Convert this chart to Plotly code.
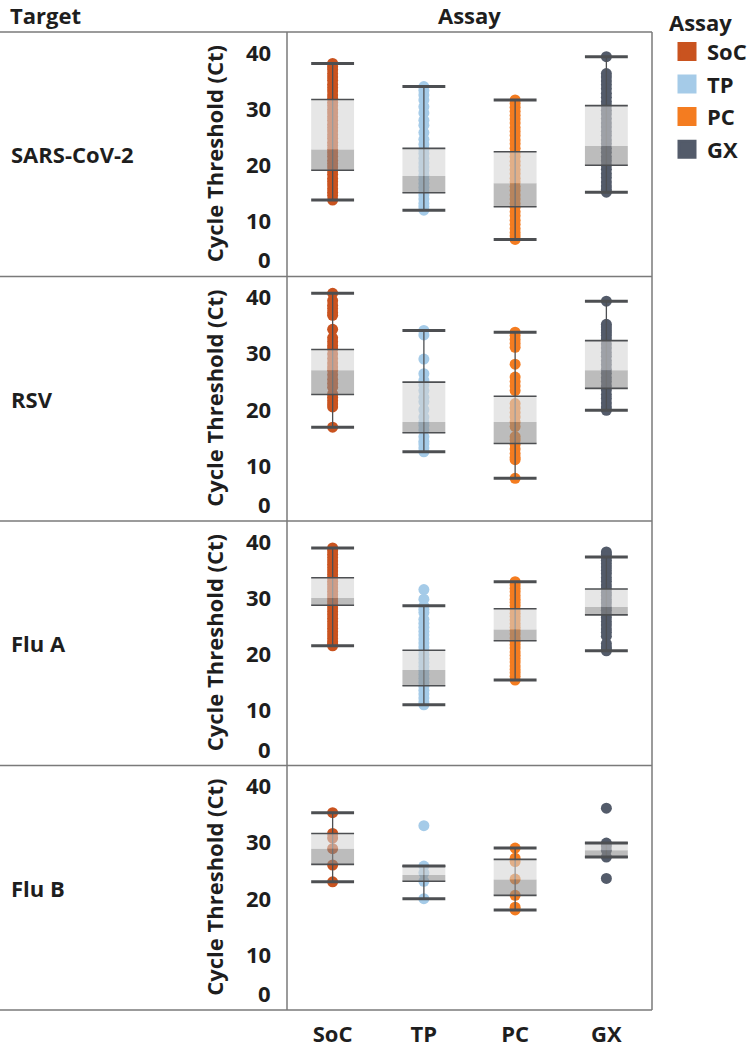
import plotly.graph_objects as go

W, H = 755, 1050
FONT = "Open Sans"
TEXT_COLOR = "#1e1e1e"
FS = 22

ASSAYS = ["SoC", "TP", "PC", "GX"]
TARGETS = ["SARS-CoV-2", "RSV", "Flu A", "Flu B"]
COLORS = {"SoC": "#c9531f", "TP": "#a5cbe8", "PC": "#f47c20", "GX": "#535b6a"}
Y_TICKS = [0, 10, 20, 30, 40]
Y_TITLE = "Cycle Threshold (Ct)"

# ---- Ct values -----------------------------------------------------------
SARS_SOC = [37.9, 37.3, 36.8, 36.1, 35.5, 34.9, 34.2, 33.6, 33.0, 32.3, 31.7, 31.0,
            30.4, 29.7, 29.1, 28.4, 27.8, 27.1, 26.5, 25.9, 25.2, 24.6, 23.9, 23.3,
            22.6, 22.0, 21.4, 20.7, 20.1, 19.5, 18.8, 18.2, 17.5, 16.9, 16.3, 15.6,
            15.0, 14.4, 13.6]
SARS_TP = [33.8, 33.1, 32.3, 31.4, 30.2, 29.1, 27.8, 26.9, 25.6, 24.4, 23.5, 22.6,
           21.9, 21.0, 20.2, 19.5, 18.8, 18.0, 17.3, 16.6, 15.9, 15.2, 14.5, 13.8,
           13.0, 12.4, 11.8]
SARS_PC = [31.4, 30.8, 30.1, 29.4, 28.7, 28.0, 27.3, 26.5, 25.8, 25.1, 24.3, 23.6,
           22.8, 22.0, 21.3, 20.5, 19.8, 19.0, 18.3, 17.5, 16.8, 16.0, 15.3, 14.5,
           13.8, 13.0, 12.3, 11.5, 10.8, 10.0, 9.3, 8.5, 7.8, 7.2, 6.6]
SARS_GX = [39.1, 36.1, 35.5, 34.8, 34.1, 33.4, 32.6, 31.9, 31.1, 30.4, 29.6, 28.9,
           28.1, 27.3, 26.6, 25.8, 25.1, 24.3, 23.6, 22.8, 22.1, 21.3, 20.6, 19.8,
           19.1, 18.3, 17.6, 16.8, 16.1, 15.5, 15.0]

RSV_SOC = [40.5, 39.2, 38.4, 37.8, 37.1, 36.6, 34.1, 32.6, 31.9, 31.2, 30.6, 29.7,
           28.9, 28.1, 27.4, 26.8, 26.0, 25.2, 24.5, 23.8, 22.6, 22.0, 21.4, 20.8,
           20.3, 16.7]
RSV_TP = [33.9, 33.1, 28.8, 26.2, 25.0, 24.2, 23.2, 22.0, 21.2, 19.8, 18.5, 17.6,
          17.0, 16.2, 15.0, 14.2, 13.7, 13.0, 12.3]
RSV_PC = [33.6, 33.0, 32.3, 31.6, 30.9, 27.9, 25.6, 24.8, 24.0, 23.2, 20.9, 20.1,
          19.3, 18.5, 17.6, 16.8, 15.0, 14.4, 13.6, 12.8, 12.0, 11.3, 10.9, 7.6]
RSV_GX = [39.1, 35.0, 34.5, 34.0, 33.5, 33.0, 32.4, 31.5, 30.8, 30.0, 29.3, 28.5,
          27.8, 27.0, 26.3, 25.5, 24.8, 24.0, 23.3, 22.5, 21.8, 21.0, 20.3, 19.7]

FLUA_SOC = [38.7, 38.2, 37.6, 37.0, 36.4, 35.8, 35.2, 34.6, 34.0, 33.4, 32.8, 32.2,
            31.6, 31.0, 30.4, 29.8, 29.2, 28.6, 28.0, 27.4, 26.8, 26.2, 25.6, 25.0,
            24.4, 23.8, 23.2, 22.6, 22.0, 21.6, 21.3]
FLUA_TP = [31.3, 29.6, 28.4, 27.8, 27.2, 26.0, 25.3, 24.6, 23.9, 23.2, 22.5, 21.8,
           21.1, 20.4, 19.7, 19.0, 18.3, 17.6, 16.9, 16.2, 15.5, 14.8, 14.1, 13.4,
           12.7, 12.0, 11.3, 10.8]
FLUA_PC = [32.7, 32.1, 31.5, 30.9, 30.2, 29.6, 29.0, 28.4, 27.7, 27.1, 26.5, 25.9,
           25.2, 24.6, 24.0, 23.4, 22.7, 22.1, 21.5, 20.9, 20.2, 19.6, 19.0, 18.4,
           17.7, 17.1, 16.5, 15.9, 15.2]
FLUA_GX = [38.0, 37.6, 37.1, 36.5, 35.9, 35.3, 34.7, 34.1, 33.4, 32.8, 32.1, 31.5,
           30.8, 30.2, 29.5, 28.9, 28.2, 27.6, 26.9, 26.3, 25.6, 25.0, 24.3, 23.7,
           23.0, 21.7, 21.1, 20.7, 20.4]

FLUB_SOC = [35.1, 31.4, 30.6, 28.7, 25.8, 22.8]
FLUB_TP = [32.8, 25.6, 24.4, 22.9, 19.8]
FLUB_PC = [28.8, 27.0, 26.4, 23.3, 20.4, 18.3, 17.8]
FLUB_GX = [35.9, 29.7, 29.2, 28.4, 27.2, 23.4]

POINTS = {
    "SARS-CoV-2": [SARS_SOC, SARS_TP, SARS_PC, SARS_GX],
    "RSV": [RSV_SOC, RSV_TP, RSV_PC, RSV_GX],
    "Flu A": [FLUA_SOC, FLUA_TP, FLUA_PC, FLUA_GX],
    "Flu B": [FLUB_SOC, FLUB_TP, FLUB_PC, FLUB_GX],
}

# Box-plot statistics per target, in ASSAYS order
WHISKER_LOW = {"SARS-CoV-2": [13.6, 11.8, 6.6, 15.0], "RSV": [16.7, 12.3, 7.6, 19.7],
               "Flu A": [21.3, 10.8, 15.2, 20.4], "Flu B": [22.8, 19.8, 17.8, 27.2]}
Q1 = {"SARS-CoV-2": [18.9, 14.9, 12.4, 19.8], "RSV": [22.5, 15.7, 13.8, 23.6],
      "Flu A": [28.5, 14.2, 22.2, 26.8], "Flu B": [25.9, 22.9, 20.4, 27.2]}
MEDIAN = {"SARS-CoV-2": [22.6, 17.9, 16.6, 23.2], "RSV": [26.8, 17.6, 17.6, 26.8],
          "Flu A": [29.8, 17.0, 24.2, 28.2], "Flu B": [28.7, 24.0, 23.2, 28.4]}
Q3 = {"SARS-CoV-2": [31.5, 22.8, 22.2, 30.4], "RSV": [30.5, 24.7, 22.2, 32.1],
      "Flu A": [33.4, 20.5, 27.9, 31.4], "Flu B": [31.4, 25.6, 26.8, 29.7]}
WHISKER_HIGH = {"SARS-CoV-2": [37.9, 33.8, 31.4, 39.1], "RSV": [40.5, 33.9, 33.6, 39.1],
                "Flu A": [38.7, 28.4, 32.7, 37.1], "Flu B": [35.1, 25.6, 28.8, 29.7]}

# ---- layout geometry (pixels) ---------------------------------------------
ROW_EDGES = [32, 276.5, 521, 765.5, 1010]
PANE_LEFT, PANE_RIGHT = 287, 652
Y_RANGE = [0, 43.5]
BOX_HALF = 0.235


def fx(px):
    return px / W


def fy(px):
    return 1 - px / H


def rect_polys(lows, highs):
    xs, ys = [], []
    for i, (lo, hi) in enumerate(zip(lows, highs)):
        xs += [i - BOX_HALF, i + BOX_HALF, i + BOX_HALF, i - BOX_HALF, i - BOX_HALF, None]
        ys += [lo, lo, hi, hi, lo, None]
    return xs, ys


LINE_DARK = "#4d4f52"
fig = go.Figure()

for r, target in enumerate(TARGETS, start=1):
    xa = "x" if r == 1 else f"x{r}"
    ya = "y" if r == 1 else f"y{r}"
    pos = list(range(len(ASSAYS)))
    # points
    for i, a in enumerate(ASSAYS):
        vals = POINTS[target][i]
        fig.add_trace(go.Scatter(
            x=[i] * len(vals), y=vals, mode="markers",
            marker=dict(size=11, color=COLORS[a], line=dict(width=0)),
            showlegend=False, hoverinfo="y", xaxis=xa, yaxis=ya))
    # whisker stems
    sx, sy = [], []
    for i in pos:
        sx += [i, i, None]
        sy += [WHISKER_LOW[target][i], WHISKER_HIGH[target][i], None]
    fig.add_trace(go.Scatter(x=sx, y=sy, mode="lines",
                             line=dict(color=LINE_DARK, width=1.3),
                             showlegend=False, hoverinfo="skip", xaxis=xa, yaxis=ya))
    # two-tone box (translucent, drawn over the points)
    lx, ly = rect_polys(Q1[target], MEDIAN[target])
    fig.add_trace(go.Scatter(x=lx, y=ly, mode="none", fill="toself",
                             fillcolor="rgba(140,140,140,0.58)",
                             showlegend=False, hoverinfo="skip", xaxis=xa, yaxis=ya))
    ux, uy = rect_polys(MEDIAN[target], Q3[target])
    fig.add_trace(go.Scatter(x=ux, y=uy, mode="none", fill="toself",
                             fillcolor="rgba(212,212,212,0.58)",
                             showlegend=False, hoverinfo="skip", xaxis=xa, yaxis=ya))
    # box edges (Q1, Q3)
    bx, by = [], []
    for i in pos:
        for v in (Q1[target][i], Q3[target][i]):
            bx += [i - BOX_HALF, i + BOX_HALF, None]
            by += [v, v, None]
    fig.add_trace(go.Scatter(x=bx, y=by, mode="lines",
                             line=dict(color=LINE_DARK, width=1.6),
                             showlegend=False, hoverinfo="skip", xaxis=xa, yaxis=ya))
    # whisker caps
    cx, cy = [], []
    for i in pos:
        for v in (WHISKER_LOW[target][i], WHISKER_HIGH[target][i]):
            cx += [i - BOX_HALF, i + BOX_HALF, None]
            cy += [v, v, None]
    fig.add_trace(go.Scatter(x=cx, y=cy, mode="lines",
                             line=dict(color=LINE_DARK, width=3),
                             showlegend=False, hoverinfo="skip", xaxis=xa, yaxis=ya))

# legend entries
for a in ASSAYS:
    fig.add_trace(go.Scatter(x=[None], y=[None], mode="markers", name=a, legendgroup=a,
                             marker=dict(symbol="square", size=16, color=COLORS[a],
                                         line=dict(width=3, color=COLORS[a])),
                             xaxis="x", yaxis="y"))

layout = dict(
    width=W, height=H,
    margin=dict(l=0, r=0, t=0, b=0),
    paper_bgcolor="white", plot_bgcolor="white",
    font=dict(family=FONT, size=FS, color=TEXT_COLOR),
    showlegend=True,
    legend=dict(x=fx(667), y=fy(2), xanchor="left", yanchor="top",
                title=dict(text="<b>Assay</b>", font=dict(size=FS)),
                font=dict(size=FS, family=FONT, color=TEXT_COLOR, weight=700),
                itemsizing="trace", tracegroupgap=1, bgcolor="rgba(0,0,0,0)",
                borderwidth=0),
)
annotations = []
shapes = []
for r, target in enumerate(TARGETS, start=1):
    top, bot = ROW_EDGES[r - 1], ROW_EDGES[r]
    xkey = "xaxis" if r == 1 else f"xaxis{r}"
    ykey = "yaxis" if r == 1 else f"yaxis{r}"
    ya = "y" if r == 1 else f"y{r}"
    layout[xkey] = dict(domain=[fx(PANE_LEFT), fx(PANE_RIGHT)], range=[-0.5, 3.5],
                        showgrid=False, zeroline=False, showline=False,
                        tickmode="array", tickvals=list(range(len(ASSAYS))),
                        ticktext=[f"<b>{a}</b>" for a in ASSAYS],
                        showticklabels=(r == len(TARGETS)), ticks="",
                        ticklabelstandoff=9,
                        tickfont=dict(size=FS, family=FONT, color=TEXT_COLOR),
                        anchor=ya, fixedrange=True)
    layout[ykey] = dict(domain=[fy(bot), fy(top)], range=Y_RANGE, showgrid=False,
                        zeroline=False, showline=False, showticklabels=False,
                        anchor="x" if r == 1 else f"x{r}", fixedrange=True)
    for t in Y_TICKS:
        annotations.append(dict(text=f"<b>{t}</b>", xref="paper", x=fx(273), xanchor="right",
                                yref=ya, y=t, yanchor="bottom" if t == Y_TICKS[0] else "middle",
                                showarrow=False, font=dict(size=FS)))
    annotations.append(dict(text=f"<b>{Y_TITLE}</b>", xref="paper", x=fx(214),
                            yref=f"{ya} domain", y=0.5, textangle=-90, showarrow=False,
                            xanchor="center", yanchor="middle", font=dict(size=FS)))
    annotations.append(dict(text=f"<b>{target}</b>", xref="paper", x=fx(9), xanchor="left",
                            yref=f"{ya} domain", y=0.5, yanchor="middle", showarrow=False,
                            font=dict(size=FS)))

annotations.append(dict(text="<b>Target</b>", xref="paper", yref="paper", x=fx(8), y=fy(15),
                        xanchor="left", yanchor="middle", showarrow=False, font=dict(size=FS)))
annotations.append(dict(text="<b>Assay</b>", xref="paper", yref="paper",
                        x=fx((PANE_LEFT + PANE_RIGHT) / 2), y=fy(15),
                        xanchor="center", yanchor="middle", showarrow=False, font=dict(size=FS)))

FRAME = dict(color="#7a7a7a", width=1.5)
for e in ROW_EDGES:
    shapes.append(dict(type="line", xref="paper", yref="paper", x0=0, x1=fx(PANE_RIGHT),
                       y0=fy(e), y1=fy(e), line=FRAME))
for xv in (PANE_LEFT, PANE_RIGHT):
    shapes.append(dict(type="line", xref="paper", yref="paper", x0=fx(xv), x1=fx(xv),
                       y0=fy(ROW_EDGES[0]), y1=fy(ROW_EDGES[-1]), line=FRAME))

layout["annotations"] = annotations
layout["shapes"] = shapes
fig.update_layout(**layout)
fig.write_html("out.html", config={"displayModeBar": False},
               post_script="document.body.style.margin='0';document.body.style.overflow='hidden';")
